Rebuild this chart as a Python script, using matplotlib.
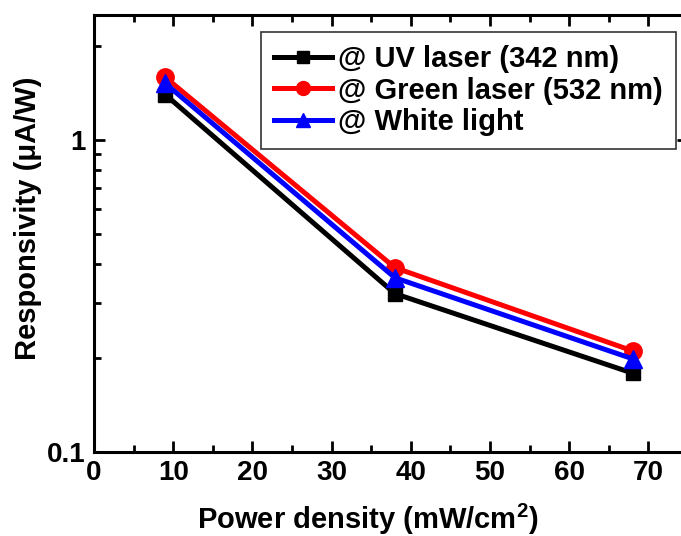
import matplotlib
matplotlib.use("Agg")
import matplotlib.pyplot as plt
from matplotlib.ticker import MultipleLocator, LogLocator, NullFormatter, FixedLocator

plt.rcParams['font.family'] = ['Liberation Sans', 'DejaVu Sans']
plt.rcParams['font.weight'] = 'bold'
plt.rcParams['mathtext.fontset'] = 'custom'
plt.rcParams['mathtext.bf'] = 'Liberation Sans:bold'
plt.rcParams['mathtext.rm'] = 'Liberation Sans:bold'

power = [9, 38, 68]
uv_laser = [1.40, 0.322, 0.179]
green_laser = [1.59, 0.390, 0.211]
white_light = [1.52, 0.362, 0.199]

labels = ["@ UV laser (342 nm)", "@ Green laser (532 nm)", "@ White light"]

fig = plt.figure(figsize=(6.81, 5.36), dpi=100)
ax = fig.add_axes([94/681, 1-452/536, 594/681, 437/536])

lw = 3.6
ax.plot(power, uv_laser, color='black', marker='s', ms=10, lw=lw, label=labels[0])
ax.plot(power, green_laser, color='red', marker='o', ms=12.5, lw=lw, label=labels[1])
ax.plot(power, white_light, color='blue', marker='^', ms=13, lw=lw, label=labels[2])

ax.set_yscale('log')
ax.set_xlim(0, 75)
ax.set_ylim(0.1, 2.52)

ax.xaxis.set_major_locator(MultipleLocator(10))
ax.xaxis.set_minor_locator(MultipleLocator(5))
ax.yaxis.set_major_locator(FixedLocator([0.1, 1]))
ax.yaxis.set_minor_locator(LogLocator(base=10, subs=range(2, 10)))
ax.yaxis.set_minor_formatter(NullFormatter())
ax.set_yticklabels(['0.1', '1'])

ax.tick_params(which='both', direction='in', top=True, right=True, width=2,
               labelsize=20, pad=6)
ax.tick_params(which='major', length=8)
ax.tick_params(which='minor', length=5)
for s in ax.spines.values():
    s.set_linewidth(2.2)

ax.set_xlabel(r"Power density (mW/cm$^{\mathbf{2}}$)", fontsize=21, fontweight='bold')
ax.set_ylabel("Responsivity (\u03bcA/W)", fontsize=21, fontweight='bold')
ax.xaxis.set_label_coords(0.461, -0.115)
ax.yaxis.set_label_coords(-0.088, 0.535)

leg = ax.legend(loc='upper right', bbox_to_anchor=(676/681, 1-32/536),
                bbox_transform=fig.transFigure, fontsize=21, frameon=True,
                fancybox=False, edgecolor='black', handlelength=2.0,
                handletextpad=0.2, borderpad=0.45, labelspacing=0.12,
                markerscale=0.8, borderaxespad=0)
leg.get_frame().set_linewidth(1.2)

fig.savefig("out.png", dpi=100)
